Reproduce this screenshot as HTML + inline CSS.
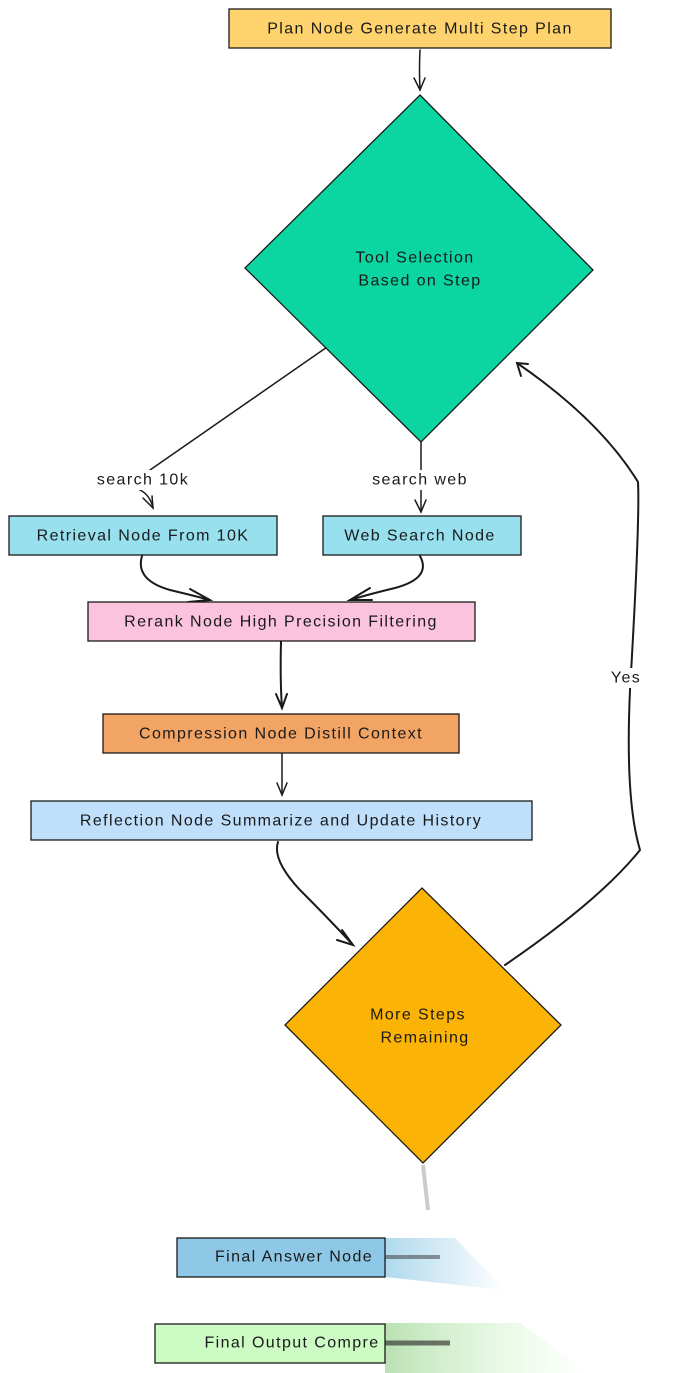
<!DOCTYPE html>
<html><head><meta charset="utf-8"><style>
html,body{margin:0;padding:0;background:#fff;}
svg{display:block;}
text{font-family:"Liberation Sans",sans-serif;font-size:16px;letter-spacing:1.4px;fill:#1a1a1a;text-anchor:middle;dominant-baseline:central;}
</style></head><body>
<svg width="700" height="1373" viewBox="0 0 700 1373" xmlns="http://www.w3.org/2000/svg">
<defs>
<linearGradient id="fadeB" x1="0" x2="1" y1="0" y2="0">
<stop offset="0" stop-color="#8ec8e6" stop-opacity="1"/>
<stop offset="1" stop-color="#8ec8e6" stop-opacity="0"/>
</linearGradient>
<linearGradient id="fadeG" x1="0" x2="1" y1="0" y2="0">
<stop offset="0" stop-color="#a9d9a0" stop-opacity="1"/>
<stop offset="1" stop-color="#ccfcc4" stop-opacity="0"/>
</linearGradient>
</defs>
<g stroke="#1a1a1a" stroke-width="1.5" fill="none" stroke-linecap="round">
<path d="M420 50 Q419 70 420 90"/><path d="M414 78 L420 90 L425 78"/>
<path d="M330 345 L150 470"/>
<path d="M140 490 Q150 495 153 508"/><path d="M143 498 L153 508 L152 496"/>
<path d="M421 442 L421 470"/>
<path d="M421 490 L421 512"/><path d="M415 500 L421 512 L426 500"/>
<path d="M142 556 Q135 580 170 590 Q195 596 210 600" stroke-width="2"/>
<path d="M190 589 L210 600 L188 602" stroke-width="2"/>
<path d="M420 556 Q432 578 395 588 Q370 594 350 600" stroke-width="2"/>
<path d="M370 588 L350 600 L372 600" stroke-width="2"/>
<path d="M281 642 Q280 680 282 708" stroke-width="2"/><path d="M276 694 L282 708 L287 694" stroke-width="2"/>
<path d="M282 754 L282 795"/><path d="M277 783 L282 795 L287 783"/>
<path d="M278 842 Q272 860 300 890 Q330 920 353 945" stroke-width="2"/>
<path d="M342 930 L353 945 L337 940" stroke-width="2"/>
<path d="M505 965 Q600 900 640 850 Q625 800 630 690 Q640 520 638 482 Q600 420 517 363" stroke-width="2"/>
<path d="M528 364 L517 363 L521 376" stroke-width="2"/>
</g>
<rect x="229" y="9" width="382" height="39" fill="#fed26c" stroke="#1a1a1a" stroke-width="1.3"/>
<text x="420" y="29">Plan Node Generate Multi Step Plan</text>
<polygon points="420,95 593,270 421,442 245,268" fill="#0bd5a0" stroke="#1a1a1a" stroke-width="1.3"/>
<text x="415" y="258">Tool Selection</text>
<text x="420" y="281">Based on Step</text>
<rect x="92" y="470" width="102" height="20" fill="#fff"/>
<text x="143" y="480">search 10k</text>
<rect x="367" y="470" width="108" height="20" fill="#fff"/>
<text x="420" y="480">search web</text>
<rect x="606" y="668" width="40" height="20" fill="#fff"/>
<text x="626" y="678">Yes</text>
<rect x="9" y="516" width="268" height="39" fill="#98e0ee" stroke="#1a1a1a" stroke-width="1.3"/>
<text x="143" y="536">Retrieval Node From 10K</text>
<rect x="323" y="516" width="198" height="39" fill="#98e0ee" stroke="#1a1a1a" stroke-width="1.3"/>
<text x="420" y="536">Web Search Node</text>
<rect x="88" y="602" width="387" height="39" fill="#fbc3dd" stroke="#1a1a1a" stroke-width="1.3"/>
<text x="281" y="622">Rerank Node High Precision Filtering</text>
<rect x="103" y="714" width="356" height="39" fill="#f2a464" stroke="#1a1a1a" stroke-width="1.3"/>
<text x="281" y="734">Compression Node Distill Context</text>
<rect x="31" y="801" width="501" height="39" fill="#bfdffb" stroke="#1a1a1a" stroke-width="1.3"/>
<text x="281" y="821">Reflection Node Summarize and Update History</text>
<polygon points="422,888 561,1025 423,1163 285,1025" fill="#fbb306" stroke="#1a1a1a" stroke-width="1.3"/>
<text x="418" y="1015">More Steps</text>
<text x="425" y="1038">Remaining</text>
<path d="M423 1165 L428 1210" stroke="#999" stroke-width="4" opacity="0.5"/>
<polygon points="385,1238 455,1238 505,1290 385,1277" fill="url(#fadeB)" opacity="0.7"/>
<rect x="177" y="1238" width="208" height="39" fill="#8ec8e6" stroke="#1a1a1a" stroke-width="1.3"/>
<text x="294" y="1257">Final Answer Node</text>
<path d="M385 1257 L440 1257" stroke="#333" stroke-width="4" opacity="0.5"/>
<polygon points="385,1323 520,1323 590,1373 385,1373" fill="url(#fadeG)" opacity="0.8"/>
<rect x="155" y="1324" width="230" height="39" fill="#ccfcc4" stroke="#1a1a1a" stroke-width="1.3"/>
<text x="292" y="1343">Final Output Compre</text>
<path d="M385 1343 L450 1343" stroke="#222" stroke-width="5" opacity="0.6"/>
</svg>
</body></html>
